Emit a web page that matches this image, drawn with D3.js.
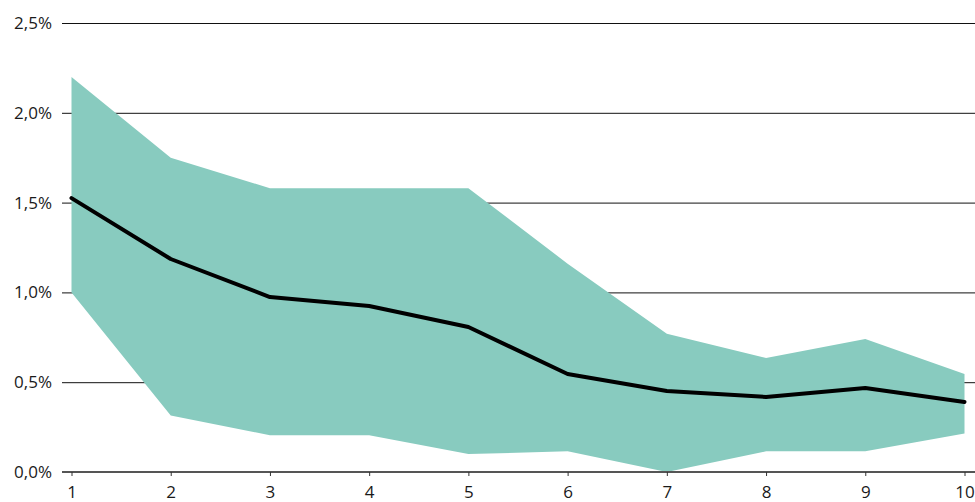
<!DOCTYPE html>
<html>
<head>
<meta charset="utf-8">
<script src="https://cdn.jsdelivr.net/npm/d3@7"></script>
<style>
  body { margin: 0; background: #fff; }
  text { font-family: "Open Sans", sans-serif; font-size: 17px; fill: #1a1a1a; }
</style>
</head>
<body>
<svg id="chart" width="975" height="502"></svg>
<script>
// years on the horizontal axis
const years = [1, 2, 3, 4, 5, 6, 7, 8, 9, 10];
// band upper / lower bounds and middle line (percent)
const upper = [2.2, 1.75, 1.58, 1.58, 1.58, 1.16, 0.77, 0.635, 0.74, 0.545];
const lower = [1.0, 0.315, 0.205, 0.205, 0.1, 0.115, 0.0, 0.115, 0.115, 0.215];
const middle = [1.525, 1.186, 0.974, 0.924, 0.807, 0.546, 0.451, 0.418, 0.468, 0.39];
const yTicks = [0, 0.5, 1, 1.5, 2, 2.5];

var cfg = {
  width: 975,
  height: 502,
  margin: {top: 23, right: 0, bottom: 30, left: 62}
};

var scale = {
  x: d3.scaleLinear().domain([1, 10]).range([71.5, 964.5]),
  y: d3.scaleLinear().domain([0, 2.5]).range([472, 23])
};

var svg = d3.select("#chart");

// gridlines + y labels
var yAxis = svg.append("g")
  .attr("transform", `translate(${cfg.margin.left},0)`)
  .call(d3.axisLeft(scale.y)
    .tickValues(yTicks)
    .tickSize(-(cfg.width - cfg.margin.left))
    .tickPadding(10)
    .tickFormat(d => d3.format(".1f")(d).replace(".", ",") + "%"));
yAxis.select(".domain").remove();
yAxis.selectAll("line").attr("stroke", "#111").attr("stroke-width", 1);
yAxis.selectAll("text").style("font-size", "17px").attr("fill", "#1a1a1a");

// band
var data = years.map((d, i) => ({x: d, lo: lower[i], hi: upper[i], mid: middle[i]}));
svg.append("path")
  .datum(data)
  .attr("fill", "#88cbbf")
  .attr("d", d3.area()
    .x(d => scale.x(d.x))
    .y0(d => scale.y(d.lo))
    .y1(d => scale.y(d.hi)));

// middle line
svg.append("path")
  .datum(data)
  .attr("fill", "none")
  .attr("stroke", "#000")
  .attr("stroke-width", 4)
  .attr("stroke-linejoin", "round")
  .attr("stroke-linecap", "round")
  .attr("d", d3.line()
    .x(d => scale.x(d.x))
    .y(d => scale.y(d.mid)));

// x axis
var xAxis = svg.append("g")
  .attr("transform", `translate(0,${scale.y(0)})`)
  .call(d3.axisBottom(scale.x)
    .tickValues(years)
    .tickSize(4)
    .tickSizeOuter(0)
    .tickPadding(10)
    .tickFormat(d3.format("d")));
xAxis.select(".domain")
  .attr("d", `M${cfg.margin.left},0H${cfg.width}`)
  .attr("stroke", "#555")
  .attr("stroke-width", 2);
xAxis.selectAll("line").attr("stroke", "#333").attr("stroke-width", 1);
xAxis.selectAll("text").style("font-size", "17px").attr("fill", "#1a1a1a");
</script>
</body>
</html>
